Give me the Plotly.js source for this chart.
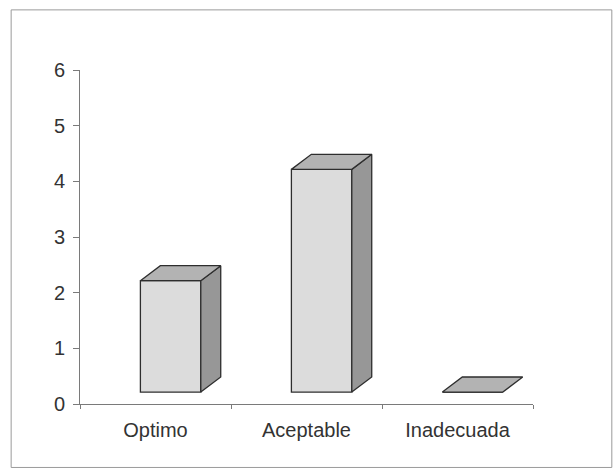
<!DOCTYPE html>
<html>
<head>
<meta charset="utf-8">
<script src="https://cdn.plot.ly/plotly-3.0.1.min.js"></script>
<style>
  html, body { margin: 0; padding: 0; background: #ffffff; }
  #chart { width: 615px; height: 471px; }
</style>
</head>
<body>
<div id="chart"></div>
<script>
// ---- data ----
var categories = ['Optimo', 'Aceptable', 'Inadecuada'];
var values = [2, 4, 0];
var yTicks = [0, 1, 2, 3, 4, 5, 6];

// ---- 3D look (style constants, in axis units) ----
var floorBase = 0.215;   // front face bottom sits slightly above the 0 line
var barWidth = 0.40;
var barOffset = -0.10;   // left edge of front face relative to category centre
var depthX = 0.132;      // perspective depth, x
var depthY = 0.27;       // perspective depth, y
var edge = '#2e2e2e';
var frontColor = '#dcdcdc';
var topColor = '#b3b3b3';
var sideColor = '#979797';

var xIdx = categories.map(function (c, i) { return i; });
var traces = [];

// front faces
traces.push({
  type: 'bar',
  x: xIdx,
  y: values,
  base: values.map(function () { return floorBase; }),
  width: barWidth,
  offset: barOffset,
  marker: { color: frontColor, line: { color: edge, width: 1.3 } },
  hoverinfo: 'skip',
  showlegend: false
});

values.forEach(function (v, i) {
  var l = i + barOffset, r = l + barWidth;
  var top = floorBase + v;
  // side face
  if (v > 0) {
    traces.push({
      type: 'scatter', mode: 'lines', fill: 'toself', fillcolor: sideColor,
      x: [r, r, r + depthX, r + depthX, r],
      y: [floorBase, top, top + depthY, floorBase + depthY, floorBase],
      line: { color: edge, width: 1.3 }, hoverinfo: 'skip', showlegend: false
    });
  }
  // top face
  traces.push({
    type: 'scatter', mode: 'lines', fill: 'toself', fillcolor: topColor,
    x: [l, r, r + depthX, l + depthX, l],
    y: [top, top, top + depthY, top + depthY, top],
    line: { color: edge, width: 1.3 }, hoverinfo: 'skip', showlegend: false
  });
});

var layout = {
  width: 615,
  height: 471,
  margin: { l: 80, r: 82, t: 70, b: 67 },
  paper_bgcolor: '#ffffff',
  plot_bgcolor: '#ffffff',
  font: { family: 'Liberation Sans, Arial, sans-serif', size: 20, color: '#333333' },
  showlegend: false,
  xaxis: {
    type: 'linear',
    range: [-0.5, categories.length - 0.5],
    tickvals: xIdx,
    ticktext: categories,
    ticks: 'outside',
    ticklen: 8,
    tickcolor: 'rgba(0,0,0,0)',
    showline: true,
    linecolor: '#7a7a7a',
    linewidth: 1,
    showgrid: false,
    zeroline: false,
    fixedrange: true,
    minor: {
      tickvals: [-0.5, 0.5, 1.5, 2.5],
      ticks: 'outside',
      ticklen: 4,
      tickcolor: '#7a7a7a',
      showgrid: false
    }
  },
  yaxis: {
    range: [0, 6],
    tickvals: yTicks,
    ticktext: yTicks.map(String),
    ticks: 'outside',
    ticklen: 6,
    tickcolor: '#7a7a7a',
    ticklabelstandoff: 4,
    showline: true,
    linecolor: '#7a7a7a',
    linewidth: 1,
    showgrid: false,
    zeroline: false,
    fixedrange: true
  },
  shapes: [{
    type: 'rect', xref: 'paper', yref: 'paper',
    x0: -0.152, x1: 1.174, y0: -0.19, y1: 1.18,
    line: { color: '#9a9a9a', width: 1 }, fillcolor: 'rgba(0,0,0,0)'
  }]
};

Plotly.newPlot('chart', traces, layout, { displayModeBar: false, staticPlot: true });
</script>
</body>
</html>
